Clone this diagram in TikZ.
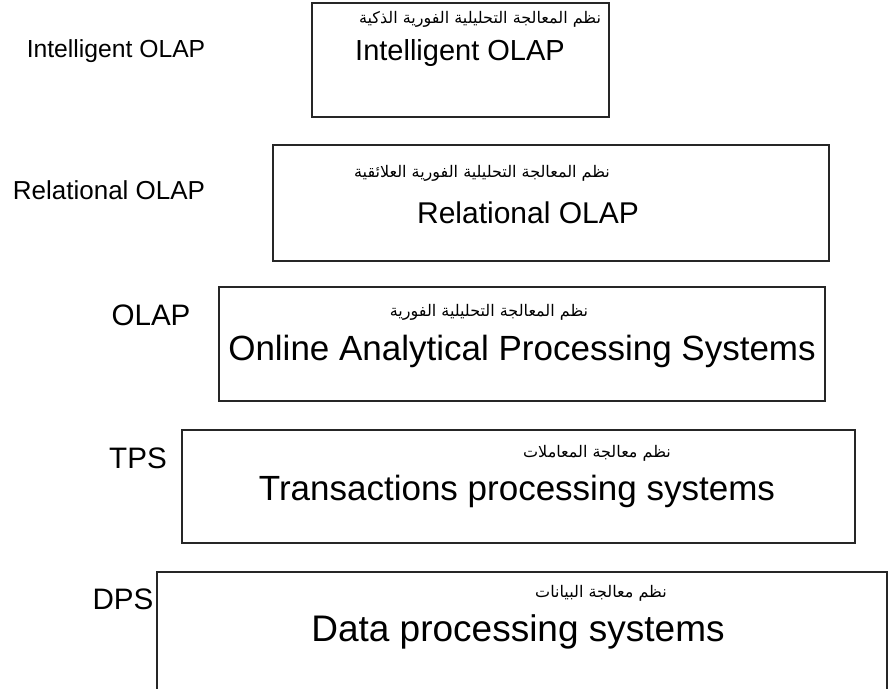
\documentclass[tikz,border=0pt]{standalone}
\usepackage{fontspec}
\setmainfont{Liberation Sans}
\newfontfamily\arabicfont[Script=Arabic]{DejaVu Sans}
\TeXXeTstate=1
\begin{document}
\begin{tikzpicture}[x=1pt,y=-1pt,
  box/.style={draw=black!85, line width=1.8pt, inner sep=0pt},
  en/.style={inner sep=0pt, anchor=center, font=\fontsize{35}{38}\selectfont},
  lab/.style={inner sep=0pt, anchor=center, font=\fontsize{29.6}{32}\selectfont},
  ar/.style={inner sep=0pt, anchor=center, font=\arabicfont\fontsize{16}{19}\selectfont}]
\useasboundingbox (0,0) rectangle (891,688);
\clip (0,0) rectangle (891,688);
% boxes
\node[box, minimum width=297, minimum height=114] (b1) at (460.5,60) {};
\node[box, minimum width=556, minimum height=116] (b2) at (551,203) {};
\node[box, minimum width=606, minimum height=114] (b3) at (522,344) {};
\node[box, minimum width=673, minimum height=113] (b4) at (518.5,486.5) {};
\node[box, minimum width=730, minimum height=160] (b5) at (522,652) {};
% arabic
\node[ar] (a1) at (480,19) {\beginR نظم المعالجة التحليلية الفورية الذكية\endR};
\node[ar] (a2) at (482,173) {\beginR نظم المعالجة التحليلية الفورية العلائقية\endR};
\node[ar] (a3) at (489,312) {\beginR نظم المعالجة التحليلية الفورية\endR};
\node[ar] (a4) at (597,453) {\beginR نظم معالجة المعاملات\endR};
\node[ar] (a5) at (601,593) {\beginR نظم معالجة البيانات\endR};
% english in boxes
\node[en, font=\fontsize{29}{32}\selectfont] (e1) at (460,53) {Intelligent OLAP};
\node[en, font=\fontsize{30}{33}\selectfont] (e2) at (528,213) {Relational OLAP};
\node[en] (e3) at (522,351) {Online Analytical Processing Systems};
\node[en] (e4) at (517,491) {Transactions processing systems};
\node[en, font=\fontsize{37}{40}\selectfont] (e5) at (518,632) {Data processing systems};
% left labels
\node[lab, font=\fontsize{24.7}{28}\selectfont] (l1) at (116,51) {Intelligent OLAP};
\node[lab, font=\fontsize{26}{29}\selectfont] (l2) at (109,190) {Relational OLAP};
\node[lab] (l3) at (151,315) {OLAP};
\node[lab] (l4) at (138,458) {TPS};
\node[lab] (l5) at (123,599) {DPS};
\end{tikzpicture}
\end{document}
